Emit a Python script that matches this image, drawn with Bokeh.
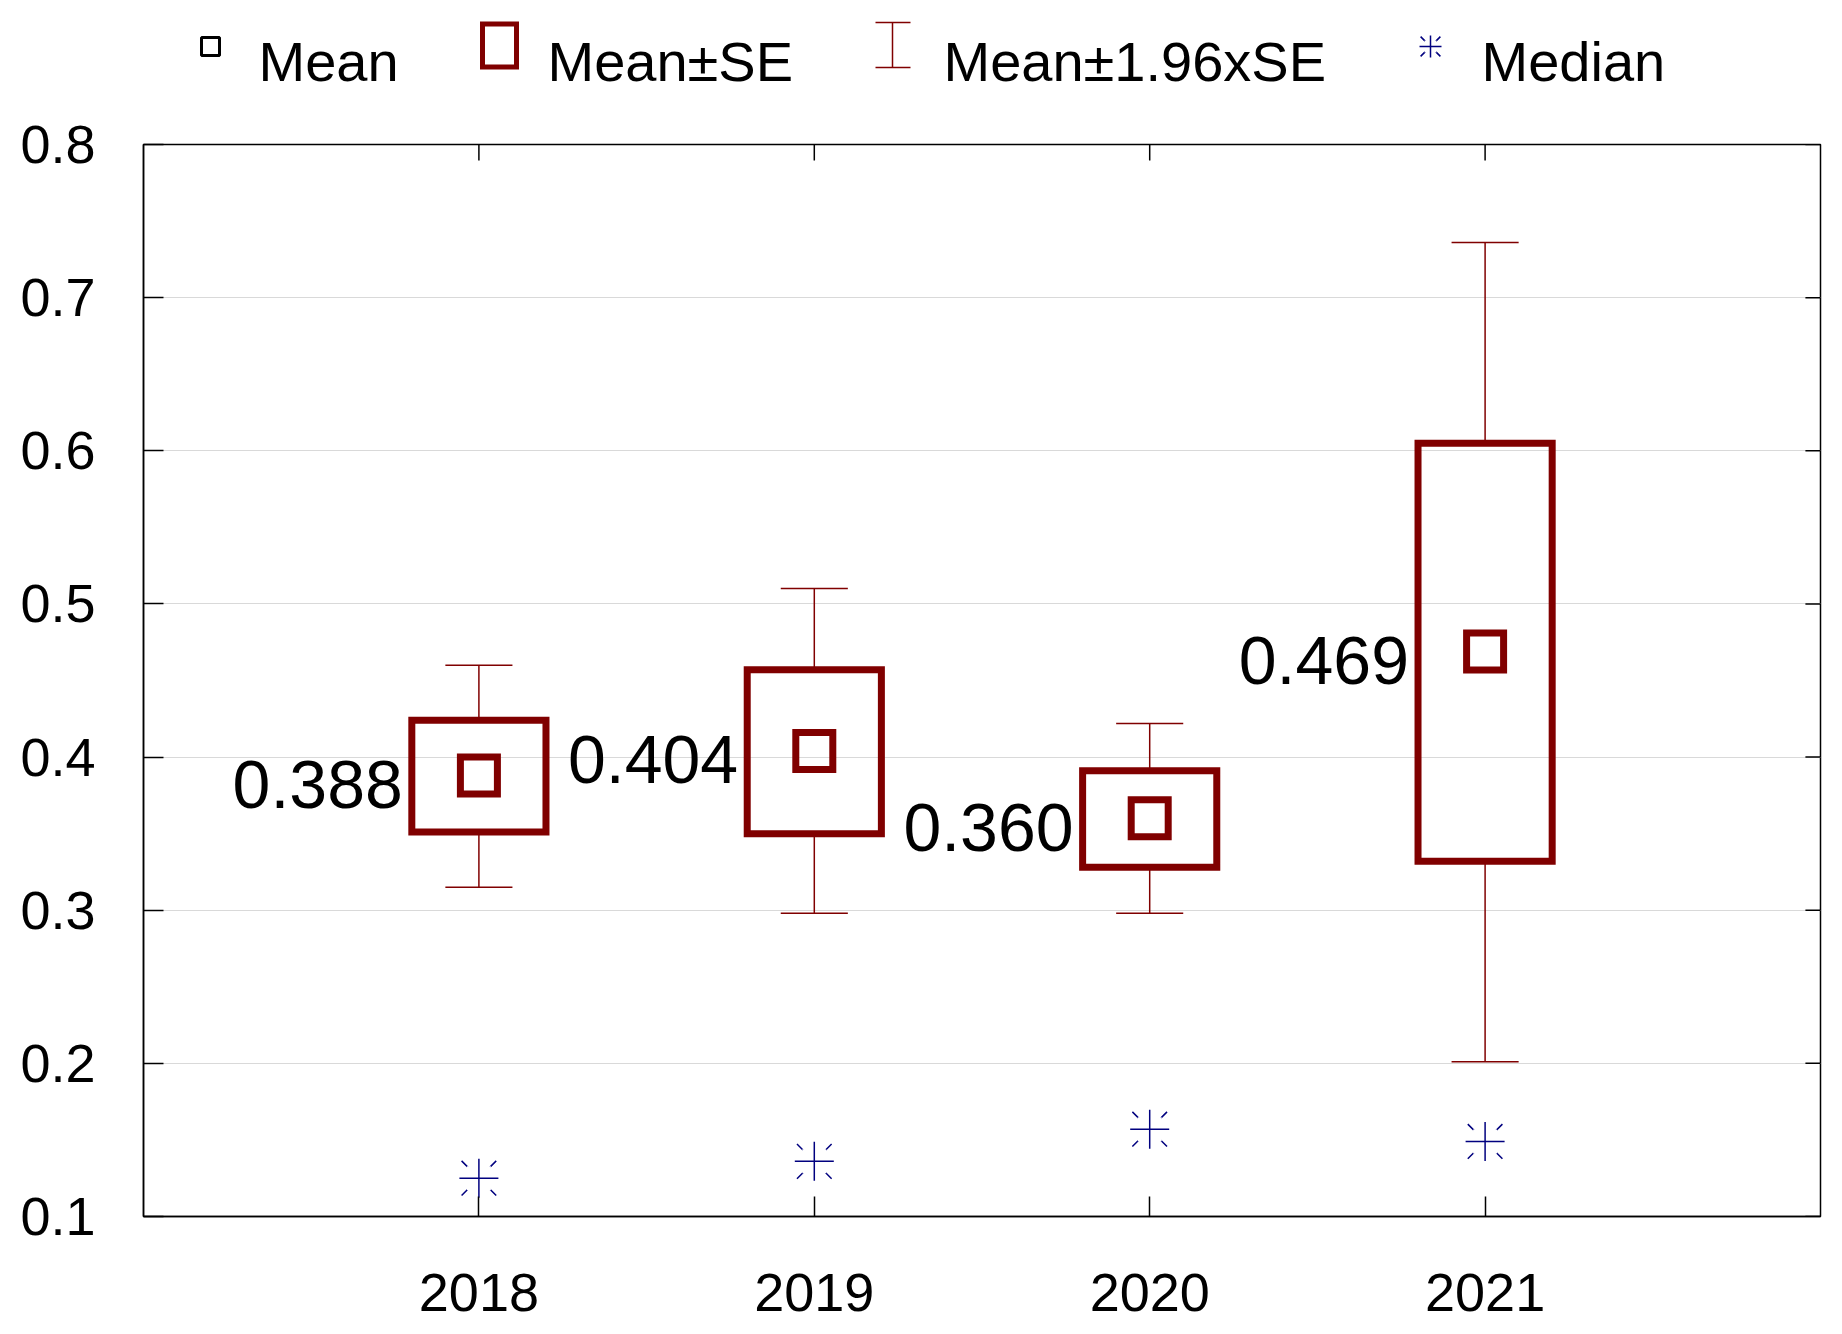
from bokeh.plotting import figure
from bokeh.models import Range1d, FixedTicker, ColumnDataSource
from bokeh.layouts import column
from bokeh.core.properties import value
from bokeh.embed import file_html
from bokeh.resources import INLINE

# ---------------- data ----------------
years = [2018, 2019, 2020, 2021]
year_labels = ["2018", "2019", "2020", "2021"]
mean = [0.388, 0.404, 0.360, 0.469]
se_lo = [0.351, 0.350, 0.328, 0.332]      # Mean - SE
se_hi = [0.424, 0.457, 0.391, 0.605]      # Mean + SE
ci_lo = [0.315, 0.298, 0.298, 0.201]      # Mean - 1.96xSE
ci_hi = [0.460, 0.510, 0.422, 0.736]      # Mean + 1.96xSE
median = [0.125, 0.136, 0.157, 0.149]
y_ticks = [0.1, 0.2, 0.3, 0.4, 0.5, 0.6, 0.7, 0.8]
y_tick_labels = ["0.1", "0.2", "0.3", "0.4", "0.5", "0.6", "0.7", "0.8"]
legend_labels = ["Mean", "Mean\u00b1SE", "Mean\u00b11.96xSE", "Median"]

# ---------------- style ----------------
FONT = "Liberation Sans"
RED = "#800000"
NAVY = "#00007f"
GRID = "#d9d9d9"
W = 1826
LEG_H = 108
MAIN_H = 1218
X_MIN, X_MAX = 2017, 2022
Y_MIN, Y_MAX = 0.1, 0.8
BOX_HALF = 0.2
CAP_HALF = 0.1
LABEL_SHIFT = 0.227
TICK_R = 0.045     # right-side tick length (x units)
TICK_T = 0.0105    # top-side tick length (y units)

src = ColumnDataSource(dict(
    x=years, mean=mean, se_lo=se_lo, se_hi=se_hi, ci_lo=ci_lo, ci_hi=ci_hi,
    median=median,
    left=[v - BOX_HALF for v in years], right=[v + BOX_HALF for v in years],
    cl=[v - CAP_HALF for v in years], cr=[v + CAP_HALF for v in years],
    lx=[v - LABEL_SHIFT for v in years],
    label=["%.3f" % m for m in mean],
))

# ---------------- main figure ----------------
p = figure(width=W, height=MAIN_H, x_range=Range1d(X_MIN, X_MAX), y_range=Range1d(Y_MIN, Y_MAX),
           output_backend="svg", toolbar_location=None,
           min_border_left=143, min_border_right=6, min_border_top=36, min_border_bottom=110)
p.outline_line_color = "black"
p.outline_line_width = 1.5
p.background_fill_color = "white"
p.border_fill_color = "white"

xt = FixedTicker(ticks=years)
yt = FixedTicker(ticks=y_ticks)
p.xaxis.ticker = xt
p.yaxis.ticker = yt
p.xaxis.major_label_overrides = {y: l for y, l in zip(years, year_labels)}
p.yaxis.major_label_overrides = {t: l for t, l in zip(y_ticks, y_tick_labels)}
for ax in (p.xaxis, p.yaxis):
    ax.major_tick_in = 20
    ax.major_tick_out = 0
    ax.minor_tick_line_color = None
    ax.axis_line_color = "black"
    ax.axis_line_width = 1.5
    ax.major_tick_line_color = "black"
    ax.major_tick_line_width = 1.5
    ax.major_label_text_font = FONT
    ax.major_label_text_font_size = "54px"
    ax.major_label_text_color = "black"
p.yaxis.major_label_standoff = 48
p.xaxis.major_label_standoff = 57

p.xgrid.visible = False
p.ygrid.ticker = yt
p.ygrid.grid_line_color = GRID
p.ygrid.grid_line_width = 1.2

# mirrored ticks on top and right edges
n_y = len(y_ticks)
p.segment(x0=[X_MAX] * n_y, y0=y_ticks, x1=[X_MAX - TICK_R] * n_y, y1=y_ticks,
          line_color="black", line_width=1.5)
p.segment(x0=years, y0=[Y_MAX] * len(years), x1=years, y1=[Y_MAX - TICK_T] * len(years),
          line_color="black", line_width=1.5)

# whiskers (Mean +/- 1.96xSE)
p.segment(x0="x", y0="se_hi", x1="x", y1="ci_hi", source=src, line_color=RED, line_width=1.5)
p.segment(x0="x", y0="se_lo", x1="x", y1="ci_lo", source=src, line_color=RED, line_width=1.5)
p.segment(x0="cl", y0="ci_hi", x1="cr", y1="ci_hi", source=src, line_color=RED, line_width=1.5)
p.segment(x0="cl", y0="ci_lo", x1="cr", y1="ci_lo", source=src, line_color=RED, line_width=1.5)
# boxes (Mean +/- SE)
p.quad(left="left", right="right", bottom="se_lo", top="se_hi", source=src,
       fill_color=None, line_color=RED, line_width=7, line_join="miter")
# means
p.scatter(x="x", y="mean", source=src, marker="square", size=37, fill_color=None,
          line_color=RED, line_width=7, line_join="miter")
# medians
p.scatter(x="x", y="median", source=src, marker="x", size=49, line_color=NAVY, line_width=1.5)
p.scatter(x="x", y="median", source=src, marker="square", size=24, fill_color="white", line_color=None)
p.scatter(x="x", y="median", source=src, marker="cross", size=39, line_color=NAVY, line_width=1.5)
# mean labels
p.text(x="lx", y="mean", text="label", source=src, text_align="right", text_baseline="middle",
       text_font=value(FONT), text_font_size="68px", text_color="black", y_offset=9)

# ---------------- legend strip ----------------
lf = figure(width=W, height=LEG_H, x_range=Range1d(143, 1820), y_range=Range1d(LEG_H, 0),
            output_backend="svg", toolbar_location=None, x_axis_type=None, y_axis_type=None,
            min_border_left=143, min_border_right=6, min_border_top=0, min_border_bottom=0,
            outline_line_color=None)
lf.grid.visible = False
leg_text_x = [258, 547, 943, 1481]
leg_base_y = 61
lf.scatter(x=[210], y=[46], marker="square", size=18, fill_color=None, line_color="black", line_width=3)
lf.rect(x=[499], y=[45], width=[34], height=[43], fill_color=None, line_color=RED, line_width=5,
        line_join="miter")
lf.segment(x0=[892], y0=[22], x1=[892], y1=[67], line_color=RED, line_width=1.5)
lf.segment(x0=[875, 875], y0=[22, 67], x1=[910, 910], y1=[22, 67], line_color=RED, line_width=1.5)
lf.scatter(x=[1430], y=[46], marker="x", size=28, line_color=NAVY, line_width=1.5)
lf.scatter(x=[1430], y=[46], marker="square", size=12, fill_color="white", line_color=None)
lf.scatter(x=[1430], y=[46], marker="cross", size=22, line_color=NAVY, line_width=1.5)
lf.text(x=leg_text_x, y=[leg_base_y] * 4, text=legend_labels, text_align="left",
        text_baseline="alphabetic", text_font=value(FONT), text_font_size="56px", text_color="black")

layout = column(lf, p, spacing=0)
open("out.html", "w").write(file_html(layout, INLINE))
